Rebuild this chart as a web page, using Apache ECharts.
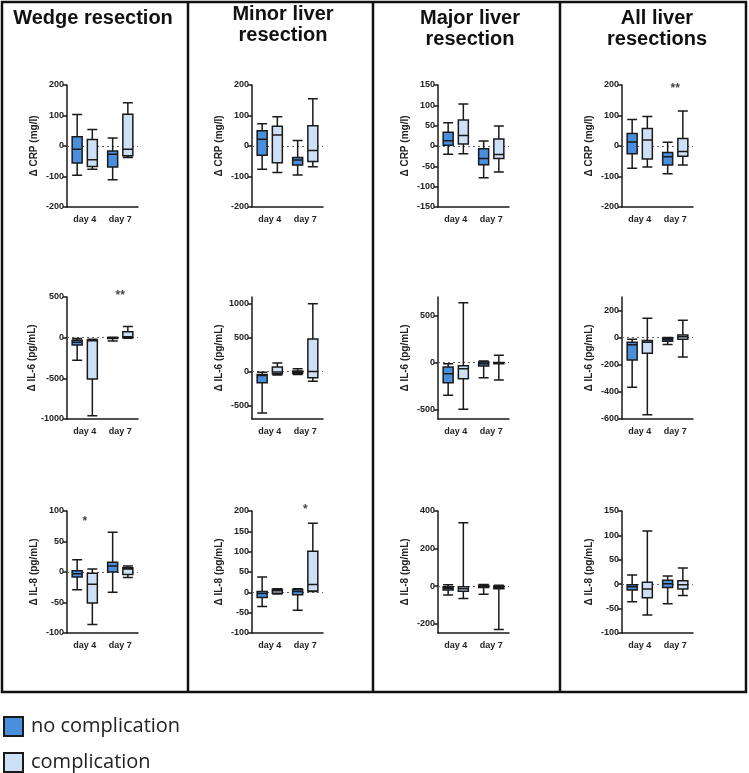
<!DOCTYPE html>
<html><head><meta charset="utf-8">
<script src="https://cdn.jsdelivr.net/npm/echarts@6/dist/echarts.min.js"></script>
<style>html,body{margin:0;padding:0;background:#fff}#c{width:749px;height:773px}</style>
</head><body><div id="c"></div>
<script>
const categories = ['day 4', 'day 7'];
const columnTitles = ['Wedge resection', 'Minor liver\nresection', 'Major liver\nresection', 'All liver\nresections'];
const rowAxisNames = ['\u0394 CRP (mg/l)', '\u0394 IL-6 (pg/mL)', '\u0394 IL-8 (pg/mL)'];
const seriesNames = ['no complication', 'complication'];

// Box values: [min, Q1, median, Q3, max] for day 4, day 7
const wedgeCrpNo   = [[-96, -56, -11, 30, 103], [-111, -69, -27, -16, 26]];
const wedgeCrpComp = [[-76, -67, -45, 21, 54], [-38, -32, -11, 104, 142]];
const minorCrpNo   = [[-76, -30, 22, 50, 73], [-95, -62, -46, -38, 18]];
const minorCrpComp = [[-87, -55, 36, 65, 96], [-68, -51, -15, 66, 155]];
const majorCrpNo   = [[-20, 2, 13, 34, 57], [-78, -46, -31, -7, 12]];
const majorCrpComp = [[-19, 5, 26, 64, 103], [-64, -31, -21, 17, 49]];
const allCrpNo     = [[-73, -25, 13, 41, 87], [-91, -62, -35, -21, 12]];
const allCrpComp   = [[-69, -43, 20, 57, 97], [-62, -34, -18, 25, 115]];

const wedgeIl6No   = [[-277, -91, -55, -33, -10], [-40, -10, -3, 2, 5]];
const wedgeIl6Comp = [[-959, -508, -38, -30, -20], [-8, 0, 12, 74, 136]];
const minorIl6No   = [[-610, -167, -60, -44, -10], [-44, -25, -5, 10, 40]];
const minorIl6Comp = [[-49, -34, -5, 69, 128], [-143, -93, 0, 482, 1000]];
const majorIl6No   = [[-348, -213, -117, -46, -10], [-160, -35, -10, 7, 18]];
const majorIl6Comp = [[-496, -170, -64, -32, 640], [-184, -12, -3, 3, 78]];
const allIl6No     = [[-365, -164, -53, -33, -11], [-50, -26, -13, -4, 2]];
const allIl6Comp   = [[-568, -115, -33, -20, 143], [-143, -11, 7, 19, 128]];

const wedgeIl8No   = [[-29, -8, -3, 2, 20], [-33, 0, 10, 16, 65]];
const wedgeIl8Comp = [[-86, -51, -20, -2, 5], [-9, -4, 5, 7, 10]];
const minorIl8No   = [[-35, -13, -3, 2, 38], [-44, -6, 2, 7, 9]];
const minorIl8Comp = [[-4, -2, 4, 7, 9], [2, 3, 19, 101, 170]];
const majorIl8No   = [[-48, -21, -11, -4, 7], [-43, -7, 0, 4, 9]];
const majorIl8Comp = [[-66, -27, -14, -4, 338], [-231, -14, -7, 0, 5]];
const allIl8No     = [[-36, -12, -5, -1, 19], [-40, -7, 1, 8, 17]];
const allIl8Comp   = [[-63, -28, -10, 4, 109], [-23, -10, -1, 7, 33]];

// Axis ranges and tick labels
const crpRange = [-200, 200];      const crpTicks = [-200, -100, 0, 100, 200];
const majorCrpRange = [-150, 150]; const majorCrpTicks = [-150, -100, -50, 0, 50, 100, 150];
const wedgeIl6Range = [-1000, 500]; const wedgeIl6Ticks = [-1000, -500, 0, 500];
const minorIl6Range = [-700, 1100]; const minorIl6Ticks = [-500, 0, 500, 1000];
const majorIl6Range = [-600, 700];  const majorIl6Ticks = [-500, 0, 500];
const allIl6Range = [-600, 300];    const allIl6Ticks = [-600, -400, -200, 0, 200];
const wedgeIl8Range = [-100, 100];  const wedgeIl8Ticks = [-100, -50, 0, 50, 100];
const minorIl8Range = [-100, 200];  const minorIl8Ticks = [-100, -50, 0, 50, 100, 150, 200];
const majorIl8Range = [-250, 400];  const majorIl8Ticks = [-200, 0, 200, 400];
const allIl8Range = [-100, 150];    const allIl8Ticks = [-100, -50, 0, 50, 100, 150];

// Significance marks: [category, value, text]
const allCrpStars = [['day 7', 188, '**']];
const wedgeIl6Stars = [['day 7', 510, '**']];
const wedgeIl8Stars = [['day 4', 82, '*']];
const minorIl8Stars = [['day 7', 203, '*']];

const panels = [
  [wedgeCrpNo, wedgeCrpComp, crpRange, crpTicks, []],
  [minorCrpNo, minorCrpComp, crpRange, crpTicks, []],
  [majorCrpNo, majorCrpComp, majorCrpRange, majorCrpTicks, []],
  [allCrpNo, allCrpComp, crpRange, crpTicks, allCrpStars],
  [wedgeIl6No, wedgeIl6Comp, wedgeIl6Range, wedgeIl6Ticks, wedgeIl6Stars],
  [minorIl6No, minorIl6Comp, minorIl6Range, minorIl6Ticks, []],
  [majorIl6No, majorIl6Comp, majorIl6Range, majorIl6Ticks, []],
  [allIl6No, allIl6Comp, allIl6Range, allIl6Ticks, []],
  [wedgeIl8No, wedgeIl8Comp, wedgeIl8Range, wedgeIl8Ticks, wedgeIl8Stars],
  [minorIl8No, minorIl8Comp, minorIl8Range, minorIl8Ticks, minorIl8Stars],
  [majorIl8No, majorIl8Comp, majorIl8Range, majorIl8Ticks, []],
  [allIl8No, allIl8Comp, allIl8Range, allIl8Ticks, []]
];

const FONT = 'Liberation Sans, Arial, sans-serif';
const colLefts = [67, 252, 438, 622];
const rowTops = [85, 297, 511];
const GW = 71, GH = 122;
const fills = ['#4a8fdc', '#cde0f6'];
const ink = '#1a1a1a';

const grids = [], xAxes = [], yAxes = [], series = [];
panels.forEach((p, i) => {
  const col = i % 4, row = Math.floor(i / 4);
  grids.push({ left: colLefts[col], top: rowTops[row], width: GW, height: GH });
  xAxes.push({
    gridIndex: i, type: 'category', data: categories,
    axisLine: { onZero: false, lineStyle: { color: ink, width: 1.5 } },
    axisTick: { show: false },
    axisLabel: { color: '#222', fontSize: 9, fontWeight: 'bold', fontFamily: FONT, margin: 8 }
  });
  yAxes.push({
    gridIndex: i, type: 'value', min: p[2][0], max: p[2][1],
    name: rowAxisNames[row], nameLocation: 'middle', nameGap: 28, nameRotate: 90,
    nameTextStyle: { color: '#222', fontSize: 10, fontWeight: 'bold', fontFamily: FONT },
    axisLine: { show: true, lineStyle: { color: ink, width: 1.5 } },
    axisTick: { show: true, length: 4, lineStyle: { color: ink, width: 1.5 }, customValues: p[3] },
    axisLabel: { color: '#222', fontSize: 9, fontWeight: 'bold', fontFamily: FONT, margin: 3,
                 customValues: p[3], formatter: v => String(v) },
    splitLine: { show: false }
  });
  [p[0], p[1]].forEach((d, k) => {
    const s = {
      type: 'boxplot', name: seriesNames[k], xAxisIndex: i, yAxisIndex: i,
      data: d, boxWidth: [10, 10],
      itemStyle: { color: fills[k], borderColor: ink, borderWidth: 1.5 },
      emphasis: { disabled: true }, silent: true
    };
    if (k === 0) {
      s.markLine = {
        silent: true, symbol: 'none', label: { show: false },
        lineStyle: { type: [2, 3], color: '#666', width: 1.2 },
        data: [{ yAxis: 0 }], z: 1
      };
    }
    series.push(s);
  });
  if (p[4].length) {
    series.push({
      type: 'scatter', xAxisIndex: i, yAxisIndex: i, data: p[4],
      symbolSize: 1, itemStyle: { color: 'rgba(0,0,0,0)' }, clip: false, silent: true,
      label: { show: true, position: 'inside', formatter: q => q.data[2],
               color: '#111', fontSize: 12, fontWeight: 'bold', fontFamily: FONT }
    });
  }
});

const titleCenters = [93, 283, 470, 657];
const titleTops = [8, 4, 8, 8];
const titles = columnTitles.map((t, i) => ({
  text: t, left: titleCenters[i], top: titleTops[i], textAlign: 'center', padding: 0,
  textStyle: { fontSize: 20, fontWeight: 'bold', fontFamily: FONT, color: '#111', lineHeight: 21 }
}));

const legends = seriesNames.map((n, k) => ({
  data: [{ name: n, itemStyle: { color: fills[k], borderColor: ink, borderWidth: 2 } }],
  orient: 'vertical', left: 3, top: k === 0 ? 716 : 752, padding: 0,
  icon: 'rect', itemWidth: 19, itemHeight: 19,
  textStyle: { fontSize: 20, color: '#222', fontFamily: 'Open Sans, Liberation Sans, sans-serif', padding: [0, 0, 0, 3] },
  selectedMode: false
}));

const option = {
  animation: false,
  backgroundColor: '#fff',
  title: titles,
  grid: grids, xAxis: xAxes, yAxis: yAxes, series: series,
  legend: legends,
  graphic: [
    { type: 'rect', shape: { x: 2, y: 2, width: 744, height: 690 }, style: { fill: 'none', stroke: '#111', lineWidth: 2.5 }, silent: true },
    { type: 'line', shape: { x1: 188, y1: 2, x2: 188, y2: 692 }, style: { stroke: '#111', lineWidth: 2.5 }, silent: true },
    { type: 'line', shape: { x1: 373, y1: 2, x2: 373, y2: 692 }, style: { stroke: '#111', lineWidth: 2.5 }, silent: true },
    { type: 'line', shape: { x1: 560, y1: 2, x2: 560, y2: 692 }, style: { stroke: '#111', lineWidth: 2.5 }, silent: true }
  ]
};
const chart = echarts.init(document.getElementById('c'), null, { renderer: 'canvas' });
chart.setOption(option);
</script>
</body></html>
